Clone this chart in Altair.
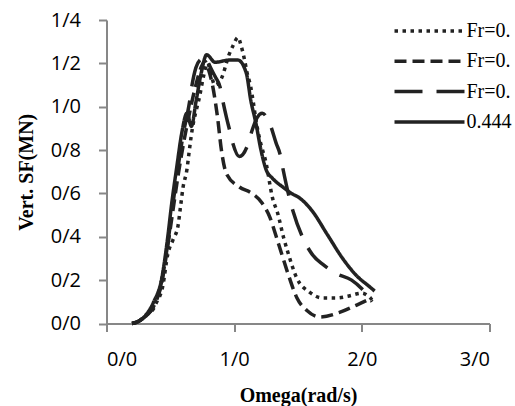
import altair as alt
import pandas as pd

# Series keys, their legend labels and line styles (dotted, dashed, long dash, solid)
SERIES_KEYS = ["s1", "s2", "s3", "s4"]
SERIES_LABELS = ["Fr=0.", "Fr=0.", "Fr=0.", "0.444"]

# Vertical shear force (MN) against encounter frequency omega (rad/s)
omega_s1 = [0.20, 0.25, 0.31, 0.37, 0.39, 0.44, 0.48, 0.52, 0.56, 0.58, 0.60, 0.63, 0.645,
            0.66, 0.67, 0.73, 0.76, 0.79, 0.85, 0.90, 0.96, 0.99, 1.03, 1.055, 1.08, 1.10,
            1.13, 1.15, 1.17, 1.20, 1.25, 1.30, 1.34, 1.39, 1.42, 1.49, 1.59, 1.69, 1.80,
            1.90, 2.00, 2.08]
sf_s1 = [0.00, 0.01, 0.04, 0.07, 0.095, 0.17, 0.32, 0.385, 0.45, 0.54, 0.63, 0.71, 0.78,
         0.85, 0.89, 1.05, 1.14, 1.20, 1.10, 1.13, 1.24, 1.28, 1.32, 1.28, 1.22, 1.16,
         1.09, 1.02, 0.94, 0.85, 0.74, 0.58, 0.51, 0.39, 0.33, 0.21, 0.145, 0.118, 0.118,
         0.127, 0.14, 0.11]

omega_s2 = [0.20, 0.25, 0.30, 0.37, 0.43, 0.48, 0.52, 0.56, 0.60, 0.65, 0.70, 0.74, 0.77,
            0.80, 0.83, 0.87, 0.90, 0.94, 1.04, 1.14, 1.22, 1.28, 1.33, 1.37, 1.43, 1.49,
            1.57, 1.67, 1.82, 1.96, 2.08]
sf_s2 = [0.00, 0.01, 0.03, 0.08, 0.18, 0.36, 0.52, 0.68, 0.82, 0.97, 1.10, 1.18, 1.21,
         1.17, 1.10, 0.95, 0.80, 0.69, 0.63, 0.60, 0.555, 0.49, 0.40, 0.325, 0.215, 0.12,
         0.06, 0.03, 0.05, 0.085, 0.118]

omega_s3 = [0.20, 0.25, 0.30, 0.37, 0.43, 0.48, 0.52, 0.56, 0.60, 0.65, 0.67, 0.70, 0.74,
            0.78, 0.80, 0.85, 0.89, 0.91, 0.94, 0.965, 0.99, 1.04, 1.11, 1.14, 1.18, 1.22,
            1.28, 1.33, 1.36, 1.38, 1.43, 1.46, 1.55, 1.61, 1.70, 1.80, 1.92, 2.00, 2.08]
sf_s3 = [0.00, 0.01, 0.03, 0.08, 0.19, 0.37, 0.55, 0.72, 0.87, 1.02, 1.10, 1.18, 1.22,
         1.23, 1.20, 1.14, 1.09, 1.03, 0.95, 0.89, 0.83, 0.77, 0.83, 0.89, 0.95, 0.97,
         0.92, 0.83, 0.78, 0.72, 0.585, 0.52, 0.38, 0.32, 0.27, 0.23, 0.20, 0.16, 0.10]

omega_s4 = [0.20, 0.25, 0.31, 0.37, 0.43, 0.48, 0.51, 0.55, 0.59, 0.63, 0.665, 0.70, 0.74,
            0.785, 0.85, 0.96, 1.03, 1.095, 1.13, 1.17, 1.21, 1.25, 1.30, 1.38, 1.45, 1.51,
            1.61, 1.73, 1.85, 1.96, 2.06, 2.10]
sf_s4 = [0.00, 0.01, 0.04, 0.10, 0.20, 0.40, 0.55, 0.72, 0.88, 0.97, 0.91, 1.02, 1.15,
         1.24, 1.205, 1.215, 1.215, 1.155, 1.03, 0.925, 0.80, 0.71, 0.67, 0.63, 0.60, 0.58,
         0.52, 0.41, 0.30, 0.22, 0.17, 0.15]

# Axis ticks
X_TICKS = [0, 1, 2, 3]
Y_TICKS = [0.0, 0.2, 0.4, 0.6, 0.8, 1.0, 1.2, 1.4]

frames = []
for key, om, sf in [("s1", omega_s1, sf_s1), ("s2", omega_s2, sf_s2),
                    ("s3", omega_s3, sf_s3), ("s4", omega_s4, sf_s4)]:
    frames.append(pd.DataFrame({"series": key, "omega": om, "sf": sf,
                                "order": range(len(om))}))
df = pd.concat(frames, ignore_index=True)

# Legend label lookup built as a nested conditional expression
label_expr = "''"
for key, lab in reversed(list(zip(SERIES_KEYS, SERIES_LABELS))):
    label_expr = f"datum.value == '{key}' ? '{lab}' : ({label_expr})"

AXIS_GRAY = "#878787"
INK = "#222222"

legend = alt.Legend(
    title=None, orient="none", legendX=286, legendY=-4, symbolType="stroke",
    symbolSize=4900, symbolStrokeColor=INK, clipHeight=30, rowPadding=0.3,
    labelExpr=label_expr, labelFont="Liberation Serif", labelFontSize=20,
    labelColor="#000000", labelOffset=0, padding=0,
)

chart = alt.Chart(df).mark_line(interpolate="monotone", color=INK).encode(
    x=alt.X("omega:Q", scale=alt.Scale(domain=[0, 3], nice=False),
            axis=alt.Axis(values=X_TICKS, title="Omega(rad/s)", grid=False,
                          labelExpr="replace(format(datum.value, '.1f'), '.', '/')",
                          labelPadding=18, titlePadding=16)),
    y=alt.Y("sf:Q", scale=alt.Scale(domain=[0, 1.4], nice=False),
            axis=alt.Axis(values=Y_TICKS, title="Vert. SF(MN)", grid=False,
                          labelExpr="replace(format(datum.value, '.1f'), '.', '/')",
                          labelPadding=18, titlePadding=14)),
    strokeDash=alt.StrokeDash("series:N", scale=alt.Scale(
        domain=SERIES_KEYS, range=[[3.5, 4.5], [12, 6], [28, 14], [1, 0]]), legend=legend),
    strokeWidth=alt.StrokeWidth("series:N", scale=alt.Scale(
        domain=SERIES_KEYS, range=[3.5, 3.5, 3.5, 3]), legend=legend),
    detail="series:N",
    order="order:Q",
).properties(
    width=383, height=303.5,
    padding={"left": 106.5, "top": 20, "right": 25.5, "bottom": 82.5},
    autosize="none",
).configure_view(stroke=None).configure_axis(
    domainColor=AXIS_GRAY, domainWidth=2, tickColor=AXIS_GRAY, tickWidth=2, tickSize=8,
    labelFont="Open Sans", labelFontSize=20, labelColor="#000000",
    titleFont="Liberation Serif", titleFontSize=20, titleFontWeight="bold",
    titleColor="#000000",
)

chart.save("out.html", embed_options={"renderer": "svg", "actions": False})
